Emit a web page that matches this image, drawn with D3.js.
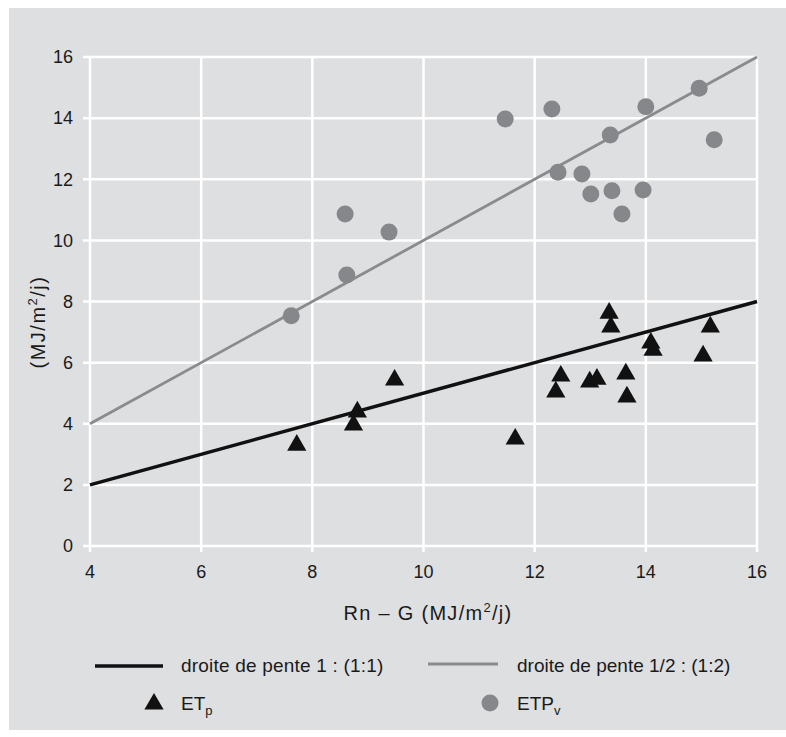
<!DOCTYPE html>
<html>
<head>
<meta charset="utf-8">
<script src="https://cdn.jsdelivr.net/npm/d3@7"></script>
<style>
  body { margin: 0; background: #ffffff; }
  svg text { font-family: "Liberation Sans", Arial, sans-serif; fill: #1a1a1a; }
</style>
</head>
<body>
<div id="chart"></div>
<script>
// ETPv points (gray circles)
var etpvX = [7.62, 8.59, 9.38, 8.62, 11.47, 12.31, 14.0, 14.96, 15.23, 13.36, 12.42, 12.85, 13.01, 13.39, 13.95, 13.57];
var etpvY = [7.53, 10.86, 10.27, 8.87, 13.97, 14.30, 14.37, 14.98, 13.29, 13.45, 12.23, 12.17, 11.52, 11.62, 11.65, 10.86];
// ETp points (black triangles)
var etpX = [7.72, 8.81, 8.74, 9.48, 11.65, 12.47, 12.38, 12.99, 13.12, 13.34, 13.37, 13.64, 13.66, 14.09, 14.13, 15.03, 15.16];
var etpY = [3.30, 4.39, 3.96, 5.43, 3.50, 5.56, 5.04, 5.37, 5.46, 7.62, 7.17, 5.63, 4.88, 6.64, 6.41, 6.22, 7.17];
// reference lines
var lineX = [4, 16];
var blackLineY = [2, 8];
var grayLineY = [4, 16];
var xTicks = [4, 6, 8, 10, 12, 14, 16];
var yTicks = [0, 2, 4, 6, 8, 10, 12, 14, 16];

var W = 786, H = 737;
var svg = d3.select("#chart").append("svg").attr("width", W).attr("height", H);

// grey panel
svg.append("rect").attr("x", 9).attr("y", 8).attr("width", W - 9).attr("height", 722)
  .attr("fill", "#dedfe1");

var x = d3.scaleLinear().domain([4, 16]).range([90, 757]);
var y = d3.scaleLinear().domain([0, 16]).range([546, 57]);

// grid
svg.append("g").selectAll("line.v").data(xTicks).enter().append("line")
  .attr("x1", function(d) { return x(d); }).attr("x2", function(d) { return x(d); })
  .attr("y1", y(0) + 6).attr("y2", y(16))
  .attr("stroke", "#ffffff").attr("stroke-width", 2.5);
svg.append("g").selectAll("line.h").data(yTicks).enter().append("line")
  .attr("y1", function(d) { return y(d); }).attr("y2", function(d) { return y(d); })
  .attr("x1", x(4) - 7).attr("x2", x(16))
  .attr("stroke", "#ffffff").attr("stroke-width", 2.5);

// tick labels
svg.append("g").selectAll("text").data(yTicks).enter().append("text")
  .attr("x", 73).attr("y", function(d) { return y(d); })
  .attr("dy", "0.35em").attr("text-anchor", "end")
  .style("font-size", "18px")
  .text(function(d) { return d; });
svg.append("g").selectAll("text").data(xTicks).enter().append("text")
  .attr("x", function(d) { return x(d); }).attr("y", 572)
  .attr("dy", "0.35em").attr("text-anchor", "middle")
  .style("font-size", "18px")
  .text(function(d) { return d; });

// axis titles
var xt = svg.append("text").attr("x", 428).attr("y", 620).attr("text-anchor", "middle")
  .style("font-size", "20px").style("letter-spacing", "1.3px");
xt.append("tspan").text("Rn – G (MJ/m");
xt.append("tspan").attr("dy", -8).style("font-size", "13px").text("2");
xt.append("tspan").attr("dy", 8).text("/j)");

var yt = svg.append("text").attr("transform", "translate(45,322) rotate(-90)")
  .attr("text-anchor", "middle").style("font-size", "20px").style("letter-spacing", "1.5px");
yt.append("tspan").text("(MJ/m");
yt.append("tspan").attr("dy", -8).style("font-size", "13px").text("2");
yt.append("tspan").attr("dy", 8).text("/j)");

// reference lines
var line = d3.line().x(function(d) { return x(d[0]); }).y(function(d) { return y(d[1]); });
svg.append("path").datum(d3.zip(lineX, grayLineY)).attr("d", line)
  .attr("fill", "none").attr("stroke", "#8a8b8e").attr("stroke-width", 2.8);
svg.append("path").datum(d3.zip(lineX, blackLineY)).attr("d", line)
  .attr("fill", "none").attr("stroke", "#111111").attr("stroke-width", 3.5);

// points
svg.append("g").selectAll("circle").data(d3.zip(etpvX, etpvY)).enter().append("circle")
  .attr("cx", function(d) { return x(d[0]); })
  .attr("cy", function(d) { return y(d[1]); })
  .attr("r", 8.5)
  .attr("fill", "#86878a");

var tri = d3.symbol().type(d3.symbolTriangle).size(160);
svg.append("g").selectAll("path").data(d3.zip(etpX, etpY)).enter().append("path")
  .attr("d", tri)
  .attr("transform", function(d) { return "translate(" + x(d[0]) + "," + y(d[1]) + ")"; })
  .attr("fill", "#111111");

// legend
svg.append("line").attr("x1", 95).attr("x2", 163).attr("y1", 666).attr("y2", 666)
  .attr("stroke", "#111111").attr("stroke-width", 3.5);
svg.append("text").attr("x", 181).attr("y", 672).style("font-size", "19px").style("letter-spacing", "0.2px")
  .text("droite de pente 1 : (1:1)");
svg.append("line").attr("x1", 428).attr("x2", 498).attr("y1", 664).attr("y2", 664)
  .attr("stroke", "#8a8b8e").attr("stroke-width", 2.8);
svg.append("text").attr("x", 517).attr("y", 672).style("font-size", "19px")
  .text("droite de pente 1/2 : (1:2)");

svg.append("path").attr("d", tri).attr("transform", "translate(154,704)").attr("fill", "#111111");
var l3 = svg.append("text").attr("x", 181).attr("y", 710).style("font-size", "19px");
l3.append("tspan").text("ET");
l3.append("tspan").attr("dy", 5).style("font-size", "13px").text("p");

svg.append("circle").attr("cx", 490).attr("cy", 703).attr("r", 8.5).attr("fill", "#86878a");
var l4 = svg.append("text").attr("x", 517).attr("y", 710).style("font-size", "19px");
l4.append("tspan").text("ETP");
l4.append("tspan").attr("dy", 5).style("font-size", "13px").text("v");
</script>
</body>
</html>
